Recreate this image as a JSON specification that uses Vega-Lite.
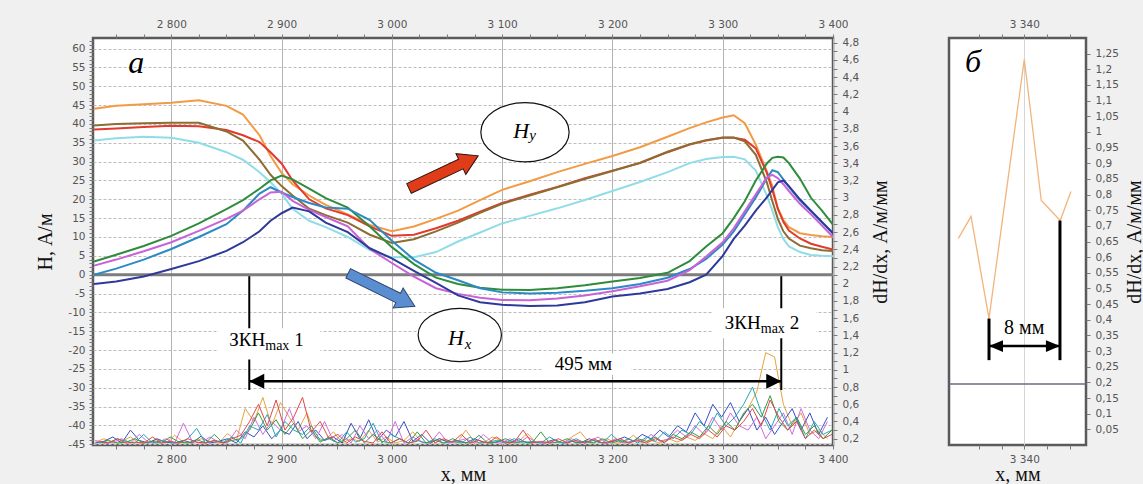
{
"$schema": "https://vega.github.io/schema/vega-lite/v6.json",
"background": "#f0f0f0",
"padding": {"left": 34, "top": 17, "right": 0, "bottom": 0},
"config": {
 "background": "#f0f0f0",
 "locale": {"number": {"decimal": ",", "thousands": " ", "grouping": [3], "currency": ["", ""], "minus": "-"}},
 "view": {"stroke": "#5a5a5a", "strokeWidth": 2.5, "fill": "white"},
 "axis": {"labelFont": "DejaVu Sans", "labelFontSize": 10.5, "labelColor": "#555555", "titleFont": "Liberation Serif", "titleFontSize": 20, "titleFontWeight": "normal", "titleColor": "#111111", "domain": false, "tickColor": "#7a7a7a", "tickSize": 4, "labelFlush": false, "labelOverlap": false},
 "text": {"font": "Liberation Serif"}
},
"datasets": {
 "h": [
{"x":2730,"o":44,"r":38.5,"b":39.6,"c":35.6,"g":3.5,"t":0,"m":2.4,"n":-2.5},
{"x":2750,"o":44.8,"r":38.8,"b":40,"c":36.2,"g":5.3,"t":1.6,"m":4,"n":-1.8},
{"x":2775,"o":45.2,"r":39.2,"b":40.2,"c":36.6,"g":7.6,"t":4,"m":6.2,"n":-0.5},
{"x":2800,"o":45.6,"r":39.5,"b":40.3,"c":36.3,"g":10.3,"t":6.8,"m":8.6,"n":1.5},
{"x":2825,"o":46.3,"r":39.4,"b":40.3,"c":35,"g":13.6,"t":10,"m":11.6,"n":3.6},
{"x":2850,"o":44.8,"r":38.4,"b":38,"c":32.5,"g":17.4,"t":13.4,"m":14.8,"n":6.3},
{"x":2865,"o":42.5,"r":37,"b":35.6,"c":30.5,"g":19.8,"t":17,"m":17,"n":8.6},
{"x":2880,"o":37,"r":35.2,"b":30.5,"c":27.2,"g":22.8,"t":21.5,"m":20,"n":11.5},
{"x":2890,"o":31.5,"r":32.5,"b":26.5,"c":24.5,"g":25,"t":23.2,"m":21.8,"n":14.3},
{"x":2900,"o":27,"r":29.5,"b":23.5,"c":21.5,"g":26.3,"t":21.8,"m":22,"n":16.3},
{"x":2910,"o":24,"r":25,"b":21,"c":17.5,"g":25.3,"t":20.6,"m":19.6,"n":17.8},
{"x":2925,"o":21,"r":20,"b":17.5,"c":14.3,"g":22.8,"t":19,"m":17.2,"n":16.8},
{"x":2940,"o":18.5,"r":17.6,"b":15.8,"c":12.6,"g":20.3,"t":17.8,"m":15.3,"n":13.8},
{"x":2960,"o":16,"r":15.8,"b":13.8,"c":10,"g":17.8,"t":17.5,"m":12.8,"n":11.3},
{"x":2980,"o":13.2,"r":12.8,"b":10.6,"c":6.5,"g":12.8,"t":14.5,"m":6.8,"n":7},
{"x":3000,"o":11.5,"r":10.3,"b":8.4,"c":4.6,"g":7.3,"t":9,"m":3.1,"n":4.3},
{"x":3020,"o":12.8,"r":10.6,"b":9.4,"c":4.6,"g":2.8,"t":4,"m":-0.5,"n":1},
{"x":3040,"o":14.8,"r":12.3,"b":11.5,"c":6,"g":-0.8,"t":0.5,"m":-3.6,"n":-2.2},
{"x":3060,"o":17,"r":14.3,"b":13.8,"c":8.8,"g":-2.5,"t":-1.5,"m":-5.1,"n":-5.5},
{"x":3080,"o":19.8,"r":16.7,"b":16.4,"c":11.2,"g":-3.5,"t":-3.6,"m":-6.1,"n":-7.3},
{"x":3100,"o":22.5,"r":19,"b":18.8,"c":13.6,"g":-4,"t":-4.7,"m":-6.7,"n":-8},
{"x":3125,"o":24.8,"r":21.2,"b":21,"c":15.6,"g":-4.1,"t":-5,"m":-6.8,"n":-8.3},
{"x":3150,"o":27.2,"r":23.3,"b":23.2,"c":17.6,"g":-3.6,"t":-4.8,"m":-6.3,"n":-8.2},
{"x":3175,"o":29.4,"r":25.6,"b":25.4,"c":19.8,"g":-2.8,"t":-4.3,"m":-5.5,"n":-7.3},
{"x":3200,"o":31.5,"r":27.6,"b":27.5,"c":22.2,"g":-1.8,"t":-3.6,"m":-4.4,"n":-5.8},
{"x":3225,"o":33.8,"r":29.6,"b":29.7,"c":24.6,"g":-0.9,"t":-2.5,"m":-3.1,"n":-5},
{"x":3250,"o":36.6,"r":32.5,"b":32.6,"c":27.2,"g":0.5,"t":-0.8,"m":-1.6,"n":-3.8},
{"x":3270,"o":38.9,"r":34.5,"b":34.6,"c":29.6,"g":3.6,"t":1.5,"m":1.2,"n":-2},
{"x":3285,"o":40.4,"r":35.6,"b":35.7,"c":30.7,"g":7.5,"t":4.2,"m":4.8,"n":0},
{"x":3300,"o":41.7,"r":36.3,"b":36.4,"c":31.2,"g":11,"t":8,"m":8.6,"n":5},
{"x":3310,"o":42.3,"r":36.3,"b":36.4,"c":31.3,"g":15,"t":11.5,"m":12.3,"n":9.5},
{"x":3320,"o":40.2,"r":35.8,"b":35.4,"c":30.6,"g":19.5,"t":16,"m":16.8,"n":13},
{"x":3330,"o":34.5,"r":33.5,"b":31.8,"c":27.6,"g":25,"t":20.5,"m":21.3,"n":17},
{"x":3340,"o":27.5,"r":27,"b":24.5,"c":21,"g":29.5,"t":25.5,"m":25.8,"n":20.5},
{"x":3345,"o":23.5,"r":22.5,"b":19.5,"c":17,"g":31,"t":27.7,"m":26.5,"n":22.5},
{"x":3350,"o":17.5,"r":17.5,"b":14.8,"c":12.6,"g":31.3,"t":27.2,"m":25.6,"n":24.5},
{"x":3355,"o":14.5,"r":14,"b":11.5,"c":9.5,"g":31.1,"t":25.3,"m":24,"n":25},
{"x":3360,"o":12.6,"r":11.7,"b":9.6,"c":7.5,"g":29.6,"t":23.3,"m":22.2,"n":23.5},
{"x":3370,"o":11,"r":9.6,"b":7.7,"c":6,"g":25.5,"t":19.7,"m":18.8,"n":20},
{"x":3380,"o":10.5,"r":8.2,"b":7,"c":5.2,"g":20.4,"t":16.8,"m":16,"n":17},
{"x":3390,"o":10.2,"r":7.4,"b":6.5,"c":5,"g":17,"t":13.8,"m":13,"n":14},
{"x":3400,"o":10,"r":6.7,"b":6.3,"c":4.9,"g":13.3,"t":11,"m":10,"n":11}
 ],
 "na": [
{"x":2731,"p":0.16,"q":0.15,"u":0.18},{"x":2739,"p":0.2,"q":0.17,"u":0.15},{"x":2747,"p":0.15,"q":0.22,"u":0.16},{"x":2755,"p":0.17,"q":0.15,"u":0.2},
{"x":2763,"p":0.22,"q":0.3,"u":0.15},{"x":2771,"p":0.15,"q":0.18,"u":0.25},{"x":2779,"p":0.16,"q":0.15,"u":0.16},{"x":2787,"p":0.19,"q":0.2,"u":0.15},
{"x":2795,"p":0.15,"q":0.16,"u":0.2},{"x":2803,"p":0.24,"q":0.15,"u":0.15},{"x":2811,"p":0.16,"q":0.18,"u":0.38},{"x":2819,"p":0.15,"q":0.15,"u":0.17},
{"x":2827,"p":0.2,"q":0.23,"u":0.15},{"x":2835,"p":0.17,"q":0.15,"u":0.22},{"x":2843,"p":0.15,"q":0.17,"u":0.16},{"x":2851,"p":0.26,"q":0.2,"u":0.15},
{"x":2859,"p":0.18,"q":0.15,"u":0.3},{"x":2867,"p":0.55,"q":0.28,"u":0.2},{"x":2875,"p":0.4,"q":0.22,"u":0.45},{"x":2883,"p":0.68,"q":0.35,"u":0.25},
{"x":2891,"p":0.35,"q":0.2,"u":0.4},{"x":2899,"p":0.62,"q":0.3,"u":0.3},{"x":2907,"p":0.45,"q":0.25,"u":0.55},{"x":2915,"p":0.3,"q":0.4,"u":0.28},
{"x":2923,"p":0.5,"q":0.2,"u":0.35},{"x":2931,"p":0.22,"q":0.3,"u":0.2},{"x":2939,"p":0.18,"q":0.18,"u":0.4},{"x":2947,"p":0.28,"q":0.22,"u":0.17},
{"x":2955,"p":0.15,"q":0.15,"u":0.25},{"x":2963,"p":0.2,"q":0.38,"u":0.15},{"x":2971,"p":0.17,"q":0.2,"u":0.35},{"x":2979,"p":0.3,"q":0.42,"u":0.2},
{"x":2987,"p":0.16,"q":0.18,"u":0.3},{"x":2995,"p":0.22,"q":0.3,"u":0.16},{"x":3003,"p":0.15,"q":0.22,"u":0.4},{"x":3011,"p":0.18,"q":0.4,"u":0.15},
{"x":3019,"p":0.28,"q":0.17,"u":0.22},{"x":3027,"p":0.16,"q":0.25,"u":0.16},{"x":3035,"p":0.15,"q":0.15,"u":0.15},{"x":3043,"p":0.2,"q":0.2,"u":0.28},
{"x":3051,"p":0.17,"q":0.16,"u":0.15},{"x":3059,"p":0.15,"q":0.18,"u":0.17},{"x":3067,"p":0.3,"q":0.15,"u":0.2},{"x":3075,"p":0.16,"q":0.2,"u":0.15},
{"x":3083,"p":0.15,"q":0.16,"u":0.25},{"x":3091,"p":0.22,"q":0.15,"u":0.16},{"x":3099,"p":0.18,"q":0.18,"u":0.15},{"x":3107,"p":0.15,"q":0.15,"u":0.2},
{"x":3115,"p":0.17,"q":0.2,"u":0.15},{"x":3123,"p":0.26,"q":0.15,"u":0.22},{"x":3131,"p":0.15,"q":0.16,"u":0.16},{"x":3139,"p":0.16,"q":0.15,"u":0.15},
{"x":3147,"p":0.19,"q":0.19,"u":0.18},{"x":3155,"p":0.15,"q":0.15,"u":0.15},{"x":3163,"p":0.22,"q":0.17,"u":0.2},{"x":3171,"p":0.28,"q":0.15,"u":0.15},
{"x":3179,"p":0.15,"q":0.2,"u":0.17},{"x":3187,"p":0.17,"q":0.16,"u":0.22},{"x":3195,"p":0.2,"q":0.15,"u":0.15},{"x":3203,"p":0.15,"q":0.18,"u":0.2},
{"x":3211,"p":0.16,"q":0.22,"u":0.15},{"x":3219,"p":0.24,"q":0.17,"u":0.18},{"x":3227,"p":0.15,"q":0.25,"u":0.16},{"x":3235,"p":0.18,"q":0.2,"u":0.25},
{"x":3243,"p":0.15,"q":0.3,"u":0.17},{"x":3251,"p":0.2,"q":0.22,"u":0.2},{"x":3259,"p":0.16,"q":0.35,"u":0.3},{"x":3267,"p":0.22,"q":0.28,"u":0.22},
{"x":3275,"p":0.18,"q":0.5,"u":0.35},{"x":3283,"p":0.26,"q":0.35,"u":0.25},{"x":3291,"p":0.2,"q":0.6,"u":0.45},{"x":3299,"p":0.35,"q":0.45,"u":0.3},
{"x":3307,"p":0.22,"q":0.62,"u":0.5},{"x":3315,"p":0.4,"q":0.4,"u":0.35},{"x":3323,"p":0.55,"q":0.55,"u":0.3},{"x":3331,"p":0.75,"q":0.3,"u":0.45},
{"x":3339,"p":1.2,"q":0.45,"u":0.2},{"x":3347,"p":1.15,"q":0.25,"u":0.35},{"x":3355,"p":0.6,"q":0.4,"u":0.5},{"x":3363,"p":0.35,"q":0.55,"u":0.25},
{"x":3371,"p":0.5,"q":0.3,"u":0.55},{"x":3379,"p":0.25,"q":0.5,"u":0.3},{"x":3387,"p":0.3,"q":0.25,"u":0.2},{"x":3395,"p":0.2,"q":0.45,"u":0.4}
 ],
 "nb": [
{"x":2735,"d":0.16,"e":0.15,"f":0.17},{"x":2743,"d":0.15,"e":0.18,"f":0.15},{"x":2751,"d":0.2,"e":0.15,"f":0.2},{"x":2759,"d":0.17,"e":0.16,"f":0.15},
{"x":2767,"d":0.15,"e":0.2,"f":0.16},{"x":2775,"d":0.25,"e":0.15,"f":0.15},{"x":2783,"d":0.15,"e":0.17,"f":0.22},{"x":2791,"d":0.18,"e":0.15,"f":0.15},
{"x":2799,"d":0.16,"e":0.22,"f":0.17},{"x":2807,"d":0.15,"e":0.16,"f":0.15},{"x":2815,"d":0.2,"e":0.15,"f":0.2},{"x":2823,"d":0.32,"e":0.19,"f":0.16},
{"x":2831,"d":0.15,"e":0.15,"f":0.15},{"x":2839,"d":0.18,"e":0.25,"f":0.18},{"x":2847,"d":0.16,"e":0.15,"f":0.15},{"x":2855,"d":0.22,"e":0.18,"f":0.2},
{"x":2863,"d":0.15,"e":0.2,"f":0.24},{"x":2871,"d":0.35,"e":0.3,"f":0.4},{"x":2879,"d":0.3,"e":0.5,"f":0.6},{"x":2887,"d":0.48,"e":0.3,"f":0.35},
{"x":2895,"d":0.22,"e":0.42,"f":0.65},{"x":2903,"d":0.4,"e":0.25,"f":0.3},{"x":2911,"d":0.3,"e":0.38,"f":0.45},{"x":2919,"d":0.25,"e":0.2,"f":0.68},
{"x":2927,"d":0.35,"e":0.3,"f":0.28},{"x":2935,"d":0.18,"e":0.16,"f":0.4},{"x":2943,"d":0.2,"e":0.22,"f":0.2},{"x":2951,"d":0.15,"e":0.15,"f":0.25},
{"x":2959,"d":0.28,"e":0.2,"f":0.15},{"x":2967,"d":0.16,"e":0.3,"f":0.22},{"x":2975,"d":0.2,"e":0.15,"f":0.17},{"x":2983,"d":0.38,"e":0.25,"f":0.15},
{"x":2991,"d":0.15,"e":0.17,"f":0.28},{"x":2999,"d":0.25,"e":0.15,"f":0.15},{"x":3007,"d":0.2,"e":0.2,"f":0.2},{"x":3015,"d":0.15,"e":0.15,"f":0.15},
{"x":3023,"d":0.18,"e":0.28,"f":0.17},{"x":3031,"d":0.15,"e":0.15,"f":0.3},{"x":3039,"d":0.2,"e":0.18,"f":0.15},{"x":3047,"d":0.15,"e":0.15,"f":0.2},
{"x":3055,"d":0.17,"e":0.2,"f":0.16},{"x":3063,"d":0.15,"e":0.16,"f":0.25},{"x":3071,"d":0.22,"e":0.15,"f":0.15},{"x":3079,"d":0.15,"e":0.24,"f":0.18},
{"x":3087,"d":0.16,"e":0.15,"f":0.15},{"x":3095,"d":0.18,"e":0.16,"f":0.22},{"x":3103,"d":0.15,"e":0.2,"f":0.15},{"x":3111,"d":0.2,"e":0.15,"f":0.16},
{"x":3119,"d":0.15,"e":0.17,"f":0.3},{"x":3127,"d":0.17,"e":0.15,"f":0.15},{"x":3135,"d":0.15,"e":0.28,"f":0.17},{"x":3143,"d":0.22,"e":0.15,"f":0.15},
{"x":3151,"d":0.16,"e":0.16,"f":0.2},{"x":3159,"d":0.15,"e":0.2,"f":0.15},{"x":3167,"d":0.2,"e":0.15,"f":0.18},{"x":3175,"d":0.15,"e":0.17,"f":0.15},
{"x":3183,"d":0.18,"e":0.15,"f":0.2},{"x":3191,"d":0.15,"e":0.2,"f":0.15},{"x":3199,"d":0.25,"e":0.15,"f":0.17},{"x":3207,"d":0.16,"e":0.18,"f":0.2},
{"x":3215,"d":0.2,"e":0.15,"f":0.15},{"x":3223,"d":0.15,"e":0.2,"f":0.18},{"x":3231,"d":0.22,"e":0.17,"f":0.15},{"x":3239,"d":0.17,"e":0.22,"f":0.2},
{"x":3247,"d":0.28,"e":0.15,"f":0.16},{"x":3255,"d":0.2,"e":0.25,"f":0.22},{"x":3263,"d":0.3,"e":0.2,"f":0.18},{"x":3271,"d":0.25,"e":0.28,"f":0.25},
{"x":3279,"d":0.4,"e":0.22,"f":0.2},{"x":3287,"d":0.3,"e":0.35,"f":0.3},{"x":3295,"d":0.5,"e":0.25,"f":0.22},{"x":3303,"d":0.35,"e":0.4,"f":0.35},
{"x":3311,"d":0.45,"e":0.3,"f":0.3},{"x":3319,"d":0.6,"e":0.5,"f":0.4},{"x":3327,"d":0.8,"e":0.6,"f":0.55},{"x":3335,"d":0.5,"e":0.45,"f":0.35},
{"x":3343,"d":0.3,"e":0.7,"f":0.65},{"x":3351,"d":0.55,"e":0.4,"f":0.45},{"x":3359,"d":0.35,"e":0.3,"f":0.3},{"x":3367,"d":0.45,"e":0.45,"f":0.4},
{"x":3375,"d":0.2,"e":0.25,"f":0.2},{"x":3383,"d":0.4,"e":0.35,"f":0.3},{"x":3391,"d":0.25,"e":0.2,"f":0.2},{"x":3399,"d":0.3,"e":0.3,"f":0.25}
 ]
},
"bounds": "flush",
"spacing": 116,
"hconcat": [
 {
  "width": 740,
  "height": 407,
  "resolve": {"scale": {"y": "independent", "color": "independent"}, "axis": {"x": "independent"}},
  "layer": [
   {
    "layer": [
     {
      "data": {"name": "na"},
      "transform": [{"fold": ["p", "q", "u"], "as": ["s", "v"]}],
      "mark": {"type": "line", "strokeWidth": 1, "clip": true},
      "encoding": {
       "x": {"field": "x", "type": "quantitative", "scale": {"domain": [2729, 3400], "nice": false, "zero": false},
             "axis": {"orient": "top", "title": null, "tickCount": 60, "values": [2750,2775,2800,2825,2850,2875,2900,2925,2950,2975,3000,3025,3050,3075,3100,3125,3150,3175,3200,3225,3250,3275,3300,3325,3350,3375,3400], "format": ",d", "labelExpr": "datum.value % 100 === 0 ? datum.label : ''", "grid": false, "labelPadding": 5}},
       "y": {"field": "v", "type": "quantitative", "scale": {"domain": [0.127, 4.855], "nice": false, "zero": false},
             "axis": {"orient": "right", "title": "dH/dx, А/м/мм", "tickCount": 47, "format": ".2~f", "labelExpr": "round(datum.value*10) % 2 === 0 ? datum.label : ''", "grid": false, "labelPadding": 5, "titleAngle": 270, "titleBaseline": "top", "titlePadding": 12}},
       "color": {"field": "s", "type": "nominal", "scale": {"domain": ["p","q","u","d","e","f"], "range": ["#e8a23c","#3a4fc4","#d36be0","#25a6b5","#3c9a46","#e0474c"]}, "legend": null}
      }
     },
     {
      "data": {"name": "nb"},
      "transform": [{"fold": ["d", "e", "f"], "as": ["s", "v"]}],
      "mark": {"type": "line", "strokeWidth": 1, "clip": true},
      "encoding": {
       "x": {"field": "x", "type": "quantitative"},
       "y": {"field": "v", "type": "quantitative"},
       "color": {"field": "s", "type": "nominal", "scale": {"domain": ["p","q","u","d","e","f"], "range": ["#e8a23c","#3a4fc4","#d36be0","#25a6b5","#3c9a46","#e0474c"]}, "legend": null}
      }
     }
    ]
   },
   {
    "layer": [
     {
      "data": {"values": [{"y": 0}]},
      "mark": {"type": "rule", "color": "#7d7d7d", "strokeWidth": 3},
      "encoding": {"y": {"field": "y", "type": "quantitative"}}
     },
     {
      "data": {"name": "h"},
      "transform": [{"fold": ["o","r","b","c","g","t","m","n"], "as": ["s", "v"]}],
      "mark": {"type": "line", "strokeWidth": 2, "clip": true},
      "encoding": {
       "x": {"field": "x", "type": "quantitative", "scale": {"domain": [2729, 3400], "nice": false, "zero": false},
             "axis": {"orient": "bottom", "title": "x, мм", "tickCount": 60, "values": [2750,2775,2800,2825,2850,2875,2900,2925,2950,2975,3000,3025,3050,3075,3100,3125,3150,3175,3200,3225,3250,3275,3300,3325,3350,3375,3400], "format": ",d", "labelExpr": "datum.value % 100 === 0 ? datum.label : ''", "grid": true, "gridColor": "#b3b3b3", "gridOpacity": {"condition": {"test": "datum.value % 100 === 0", "value": 1}, "value": 0}, "labelPadding": 5, "titlePadding": 0}},
       "y": {"field": "v", "type": "quantitative", "scale": {"domain": [-45.2, 62.8], "nice": false, "zero": false},
             "axis": {"orient": "left", "title": "H, А/м", "tickCount": 108, "labelExpr": "datum.value % 5 === 0 ? datum.label : ''", "grid": true, "gridDash": [3, 2], "gridColor": "#bdbdbd", "gridOpacity": {"condition": {"test": "datum.value % 5 === 0", "value": 1}, "value": 0}, "labelPadding": 4, "titlePadding": 12}},
       "color": {"field": "s", "type": "nominal", "scale": {"domain": ["o","r","b","c","g","t","m","n"], "range": ["#f39a45","#e23a2e","#8c6d32","#90dde8","#2e8c3c","#2b8ac4","#c862d8","#2e3a9a"]}, "legend": null}
      }
     },
     {
      "data": {"values": [{"x": 2870.7, "y": -0.4, "y2": -30.6}, {"x": 3353.1, "y": -0.4, "y2": -30.6}]},
      "mark": {"type": "rule", "color": "black", "strokeWidth": 2},
      "encoding": {"x": {"field": "x", "type": "quantitative"}, "y": {"field": "y", "type": "quantitative"}, "y2": {"field": "y2"}}
     },
     {
      "data": {"values": [{"x": 2870.7, "x2": 3353.1, "y": -28.3}]},
      "mark": {"type": "rule", "color": "black", "strokeWidth": 2.5},
      "encoding": {"x": {"field": "x", "type": "quantitative"}, "x2": {"field": "x2"}, "y": {"field": "y", "type": "quantitative"}}
     },
     {
      "data": {"values": [{"x": 2842.6, "x2": 2935, "y": -14.2, "y2": -22.5}, {"x": 3291.2, "x2": 3384.5, "y": -8.9, "y2": -16.9}, {"x": 3137.1, "x2": 3217.2, "y": -20.9, "y2": -26.6}]},
      "mark": {"type": "rect", "color": "white"},
      "encoding": {"x": {"field": "x", "type": "quantitative"}, "x2": {"field": "x2"}, "y": {"field": "y", "type": "quantitative"}, "y2": {"field": "y2"}}
     },
     {
      "data": {"values": [{"x": 2852.6, "y": -18.8, "t": "ЗКН"}, {"x": 2911.5, "y": -18.8, "t": "1"}, {"x": 3301.8, "y": -14.4, "t": "ЗКН"}, {"x": 3360.8, "y": -14.4, "t": "2"}, {"x": 3147.7, "y": -25.3, "t": "495 мм"}]},
      "mark": {"type": "text", "font": "Liberation Serif", "fontSize": 19, "align": "left", "baseline": "alphabetic", "color": "black"},
      "encoding": {"x": {"field": "x", "type": "quantitative"}, "y": {"field": "y", "type": "quantitative"}, "text": {"field": "t"}}
     },
     {
      "data": {"values": [{"x": 2885.2, "y": -19.9, "t": "max"}, {"x": 3334.5, "y": -15.5, "t": "max"}]},
      "mark": {"type": "text", "font": "Liberation Serif", "fontSize": 14, "align": "left", "baseline": "alphabetic", "color": "black"},
      "encoding": {"x": {"field": "x", "type": "quantitative"}, "y": {"field": "y", "type": "quantitative"}, "text": {"field": "t"}}
     },
     {
      "data": {"values": [{"x": 2870.7, "y": -28.3}]},
      "mark": {"type": "point", "shape": "M 0 0 L 1 -0.5 L 1 0.5 Z", "size": 900, "filled": true, "color": "black", "opacity": 1},
      "encoding": {"x": {"field": "x", "type": "quantitative"}, "y": {"field": "y", "type": "quantitative"}}
     },
     {
      "data": {"values": [{"x": 3353.1, "y": -28.3}]},
      "mark": {"type": "point", "shape": "M 0 0 L -1 -0.5 L -1 0.5 Z", "size": 900, "filled": true, "color": "black", "opacity": 1},
      "encoding": {"x": {"field": "x", "type": "quantitative"}, "y": {"field": "y", "type": "quantitative"}}
     },
     {
      "data": {"values": [{"x": 3046.9, "y": 27.2}]},
      "mark": {"type": "point", "shape": "M -1 -0.14 L 0.5 -0.14 L 0.5 -0.3 L 1 0 L 0.5 0.3 L 0.5 0.14 L -1 0.14 Z", "size": 5852, "angle": 334.8, "filled": true, "fill": "#e03c1a", "stroke": "#2b1510", "strokeWidth": 1, "opacity": 1},
      "encoding": {"x": {"field": "x", "type": "quantitative"}, "y": {"field": "y", "type": "quantitative"}}
     },
     {
      "data": {"values": [{"x": 2990.6, "y": -4.0}]},
      "mark": {"type": "point", "shape": "M -1 -0.14 L 0.5 -0.14 L 0.5 -0.3 L 1 0 L 0.5 0.3 L 0.5 0.14 L -1 0.14 Z", "size": 5535, "angle": 26.3, "filled": true, "fill": "#5b8dd1", "stroke": "#2d4670", "strokeWidth": 1, "opacity": 1},
      "encoding": {"x": {"field": "x", "type": "quantitative"}, "y": {"field": "y", "type": "quantitative"}}
     },
     {
      "data": {"values": [{"x": 3120.7, "y": 37.8}]},
      "mark": {"type": "point", "shape": "M -1 0 C -1 -0.37 -0.5523 -0.67 0 -0.67 C 0.5523 -0.67 1 -0.37 1 0 C 1 0.37 0.5523 0.67 0 0.67 C -0.5523 0.67 -1 0.37 -1 0 Z", "size": 7797, "filled": true, "fill": "white", "stroke": "#111111", "strokeWidth": 1.2, "opacity": 1},
      "encoding": {"x": {"field": "x", "type": "quantitative"}, "y": {"field": "y", "type": "quantitative"}}
     },
     {
      "data": {"values": [{"x": 3061.6, "y": -16.0}]},
      "mark": {"type": "point", "shape": "M -1 0 C -1 -0.353 -0.5523 -0.64 0 -0.64 C 0.5523 -0.64 1 -0.353 1 0 C 1 0.353 0.5523 0.64 0 0.64 C -0.5523 0.64 -1 0.353 -1 0 Z", "size": 6939, "filled": true, "fill": "white", "stroke": "#111111", "strokeWidth": 1.2, "opacity": 1},
      "encoding": {"x": {"field": "x", "type": "quantitative"}, "y": {"field": "y", "type": "quantitative"}}
     },
     {
      "data": {"values": [{"x": 3110, "y": 36.3, "t": "H"}, {"x": 3051, "y": -18.6, "t": "H"}]},
      "mark": {"type": "text", "font": "Liberation Serif", "fontStyle": "italic", "fontSize": 22, "align": "left", "baseline": "alphabetic", "color": "black"},
      "encoding": {"x": {"field": "x", "type": "quantitative"}, "y": {"field": "y", "type": "quantitative"}, "text": {"field": "t"}}
     },
     {
      "data": {"values": [{"x": 3124.5, "y": 35.7, "t": "y"}, {"x": 3066.2, "y": -19.7, "t": "x"}]},
      "mark": {"type": "text", "font": "Liberation Serif", "fontStyle": "italic", "fontSize": 15, "align": "left", "baseline": "alphabetic", "color": "black"},
      "encoding": {"x": {"field": "x", "type": "quantitative"}, "y": {"field": "y", "type": "quantitative"}, "text": {"field": "t"}}
     },
     {
      "data": {"values": [{"x": 2761, "y": 53.6, "t": "а"}]},
      "mark": {"type": "text", "font": "Liberation Serif", "fontStyle": "italic", "fontSize": 32, "align": "left", "baseline": "alphabetic", "color": "black"},
      "encoding": {"x": {"field": "x", "type": "quantitative"}, "y": {"field": "y", "type": "quantitative"}, "text": {"field": "t"}}
     }
    ]
   }
  ]
 },
 {
  "width": 137,
  "height": 407,
  "resolve": {"axis": {"x": "independent"}},
  "layer": [
   {
    "data": {"values": [{"x": 3332.73, "y": 0.66}, {"x": 3334.13, "y": 0.73}, {"x": 3336.11, "y": 0.404}, {"x": 3340, "y": 1.232}, {"x": 3341.87, "y": 0.781}, {"x": 3343.96, "y": 0.717}, {"x": 3345.14, "y": 0.81}]},
    "mark": {"type": "line", "color": "#f2b47a", "strokeWidth": 1.3, "clip": true},
    "encoding": {
     "x": {"field": "x", "type": "quantitative", "scale": {"domain": [3331.7, 3346.8], "nice": false, "zero": false},
           "axis": {"orient": "bottom", "title": "x, мм", "tickCount": 20, "values": [3335, 3337.5, 3340, 3342.5, 3345], "format": ",d", "labelExpr": "datum.value === 3340 ? datum.label : ''", "grid": true, "gridColor": "#d5d5d5", "gridOpacity": {"condition": {"test": "datum.value === 3340", "value": 1}, "value": 0}, "labelPadding": 5, "titlePadding": 0}},
     "y": {"field": "y", "type": "quantitative", "scale": {"domain": [0, 1.3], "nice": false, "zero": false},
           "axis": {"orient": "right", "title": "dH/dx, А/м/мм", "tickCount": 60, "values": [0.05,0.1,0.15,0.2,0.25,0.3,0.35,0.4,0.45,0.5,0.55,0.6,0.65,0.7,0.75,0.8,0.85,0.9,0.95,1,1.05,1.1,1.15,1.2,1.25], "format": ".2~f", "grid": false, "labelOverlap": false, "labelPadding": 5, "titleAngle": 270, "titleBaseline": "top", "titlePadding": 6}}
    }
   },
   {
    "data": {"values": [{"x": 3340, "y": 0.66}]},
    "mark": {"type": "line", "opacity": 0},
    "encoding": {
     "x": {"field": "x", "type": "quantitative", "axis": {"orient": "top", "title": null, "tickCount": 20, "values": [3335, 3337.5, 3340, 3342.5, 3345], "format": ",d", "labelExpr": "datum.value === 3340 ? datum.label : ''", "grid": false, "labelPadding": 5}},
     "y": {"field": "y", "type": "quantitative"}
    }
   },
   {
    "data": {"values": [{"y": 0.195}]},
    "mark": {"type": "rule", "color": "#6b6b85", "strokeWidth": 1.5},
    "encoding": {"y": {"field": "y", "type": "quantitative"}}
   },
   {
    "data": {"values": [{"x": 3336.11, "y": 0.404, "y2": 0.271}, {"x": 3343.93, "y": 0.717, "y2": 0.271}]},
    "mark": {"type": "rule", "color": "black", "strokeWidth": 3},
    "encoding": {"x": {"field": "x", "type": "quantitative", "axis": null}, "y": {"field": "y", "type": "quantitative"}, "y2": {"field": "y2"}}
   },
   {
    "data": {"values": [{"x": 3336.11, "x2": 3343.93, "y": 0.316}]},
    "mark": {"type": "rule", "color": "black", "strokeWidth": 2.5},
    "encoding": {"x": {"field": "x", "type": "quantitative", "axis": null}, "x2": {"field": "x2"}, "y": {"field": "y", "type": "quantitative"}}
   },
   {
    "data": {"values": [{"x": 3336.11, "y": 0.316}]},
    "mark": {"type": "point", "shape": "M 0 0 L 1 -0.42 L 1 0.42 Z", "size": 784, "filled": true, "color": "black", "opacity": 1},
    "encoding": {"x": {"field": "x", "type": "quantitative", "axis": null}, "y": {"field": "y", "type": "quantitative"}}
   },
   {
    "data": {"values": [{"x": 3343.93, "y": 0.316}]},
    "mark": {"type": "point", "shape": "M 0 0 L -1 -0.42 L -1 0.42 Z", "size": 784, "filled": true, "color": "black", "opacity": 1},
    "encoding": {"x": {"field": "x", "type": "quantitative", "axis": null}, "y": {"field": "y", "type": "quantitative"}}
   },
   {
    "data": {"values": [{"x": 3337.76, "y": 0.356, "t": "8 мм"}]},
    "mark": {"type": "text", "font": "Liberation Serif", "fontSize": 20, "align": "left", "baseline": "alphabetic", "color": "black"},
    "encoding": {"x": {"field": "x", "type": "quantitative", "axis": null}, "y": {"field": "y", "type": "quantitative"}, "text": {"field": "t"}}
   },
   {
    "data": {"values": [{"x": 3333.47, "y": 1.19, "t": "б"}]},
    "mark": {"type": "text", "font": "Liberation Serif", "fontStyle": "italic", "fontSize": 32, "align": "left", "baseline": "alphabetic", "color": "black"},
    "encoding": {"x": {"field": "x", "type": "quantitative", "axis": null}, "y": {"field": "y", "type": "quantitative"}, "text": {"field": "t"}}
   }
  ]
 }
]
}
